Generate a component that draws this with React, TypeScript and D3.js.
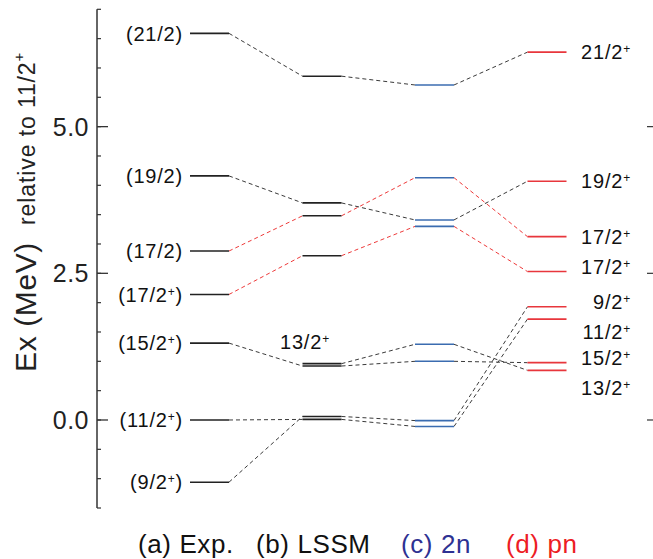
import React from 'react';
import * as d3 from 'd3';

// ---- Data ----
const columns = ['Exp.', 'LSSM', '2n', 'pn'];
const columnTitles = ['(a) Exp.', '(b) LSSM', '(c) 2n', '(d) pn'];
const spins = ['21/2', '19/2', '17/2', '17/2', '15/2', '13/2', '11/2', '9/2'];
const expE: (number | null)[] = [6.59, 4.16, 2.88, 2.14, 1.31, null, 0.0, -1.06];
const lssmE = [5.86, 3.70, 3.48, 2.80, 0.92, 0.96, 0.01, 0.06];
const twoNE = [5.71, 3.41, 4.13, 3.30, 1.00, 1.29, -0.11, -0.01];
const pnE = [6.27, 4.07, 3.125, 2.53, 0.977, 0.846, 1.72, 1.93];
const expLabels = ['(21/2', '(19/2', '(17/2', '(17/2', '(15/2', '', '(11/2', '(9/2'];
const expParity = [false, false, false, true, true, false, true, true];
const pnLabelE = [6.27, 4.07, 3.125, 2.61, 1.057, 0.545, 1.505, 2.02];
const redChains = [false, false, true, true, false, false, false, false];
const majorTicks = [0, 2.5, 5.0];
const minorTicks = d3.range(-1.5, 7.01, 0.5);

const W = 653;
const H = 559;
const FONT = '"Liberation Sans", Arial, Helvetica, sans-serif';

const y = d3.scaleLinear().domain([-1.5, 7.0]).range([508.0, 9.3]);
const x = d3.scalePoint<string>().domain(columns).range([209.5, 547]);
const halfW = 19.5;

const levelColors = ['#222222', '#222222', '#3b6cb0', '#e8363c'];
const titleColors = ['#111111', '#111111', '#2e3192', '#ed1c24'];

const energies: (number | null)[][] = [expE, lssmE, twoNE, pnE];

export default function App() {
  const segments: React.ReactNode[] = [];
  const levels: React.ReactNode[] = [];

  spins.forEach((s, i) => {
    for (let c = 0; c < columns.length - 1; c++) {
      const e0 = energies[c][i];
      const e1 = energies[c + 1][i];
      if (e0 == null || e1 == null) continue;
      segments.push(
        <line
          key={`seg-${i}-${c}`}
          x1={(x(columns[c]) as number) + halfW}
          x2={(x(columns[c + 1]) as number) - halfW}
          y1={y(e0)}
          y2={y(e1)}
          stroke={redChains[i] ? '#ee3a3a' : '#3a3a3a'}
          strokeWidth={1}
          strokeDasharray="4,3"
        />
      );
    }
    for (let c = 0; c < columns.length; c++) {
      const e = energies[c][i];
      if (e == null) continue;
      levels.push(
        <line
          key={`lev-${i}-${c}`}
          x1={(x(columns[c]) as number) - halfW}
          x2={(x(columns[c]) as number) + halfW}
          y1={y(e)}
          y2={y(e)}
          stroke={levelColors[c]}
          strokeWidth={1.6}
        />
      );
    }
  });

  return (
    <svg
      width={W}
      height={H}
      style={{ position: 'absolute', left: 0, top: 0, background: '#fff' }}
      fontFamily={FONT}
    >
      <rect width={W} height={H} fill="#fff" />
      {/* left axis */}
      <line x1={97} x2={97} y1={y(7.0)} y2={y(-1.5)} stroke="#333" strokeWidth={1.5} />
      {minorTicks.map((t) => (
        <line key={`mt-${t}`} x1={97} x2={101} y1={y(t)} y2={y(t)} stroke="#333" strokeWidth={1.2} />
      ))}
      {majorTicks.map((t) => (
        <g key={`MT-${t}`}>
          <line x1={97} x2={108} y1={y(t)} y2={y(t)} stroke="#333" strokeWidth={1.3} />
          <text x={89} y={y(t)} dy="0.36em" textAnchor="end" fontSize={25} fill="#222" letterSpacing={0.5}>
            {d3.format('.1f')(t)}
          </text>
          <line x1={647} x2={653} y1={y(t)} y2={y(t)} stroke="#333" strokeWidth={1.2} />
        </g>
      ))}

      {/* axis titles */}
      <text
        transform={`translate(36,${307}) rotate(-90)`}
        textAnchor="middle"
        fontSize={30}
        fill="#222"
        letterSpacing={0.6}
      >
        Ex (MeV)
      </text>
      <text
        transform={`translate(35,${225}) rotate(-90)`}
        textAnchor="start"
        fontSize={23}
        fill="#222"
        letterSpacing={0.9}
      >
        relative to 11/2
        <tspan fontSize={15} dy={-11}>+</tspan>
      </text>

      {segments}
      {levels}

      {/* Exp labels */}
      {spins.map((s, i) =>
        expE[i] == null ? null : (
          <text
            key={`el-${i}`}
            x={183}
            y={y(expE[i] as number)}
            dy="0.36em"
            textAnchor="end"
            fontSize={20}
            fill="#111"
            letterSpacing={0.8}
          >
            {expLabels[i]}
            {expParity[i] ? (
              <>
                <tspan fontSize={12} dy={-6}>+</tspan>
                <tspan dy={6}>)</tspan>
              </>
            ) : (
              ')'
            )}
          </text>
        )
      )}

      {/* LSSM 13/2+ label */}
      <text x={280} y={y(1.33)} dy="0.36em" fontSize={20} fill="#111" letterSpacing={0.8}>
        {spins[5]}
        <tspan fontSize={12} dy={-6}>+</tspan>
      </text>

      {/* pn labels */}
      {spins.map((s, i) => (
        <text
          key={`pl-${i}`}
          x={631}
          y={y(pnLabelE[i])}
          dy="0.36em"
          textAnchor="end"
          fontSize={20}
          fill="#111"
          letterSpacing={0.8}
        >
          {s}
          <tspan fontSize={12} dy={-6}>+</tspan>
        </text>
      ))}

      {/* column titles */}
      {columnTitles.map((t, c) => (
        <text
          key={`ct-${c}`}
          x={[138, 256, 401, 506][c]}
          y={553}
          fontSize={26}
          fill={titleColors[c]}
          letterSpacing={0.6}
        >
          {t}
        </text>
      ))}
    </svg>
  );
}
